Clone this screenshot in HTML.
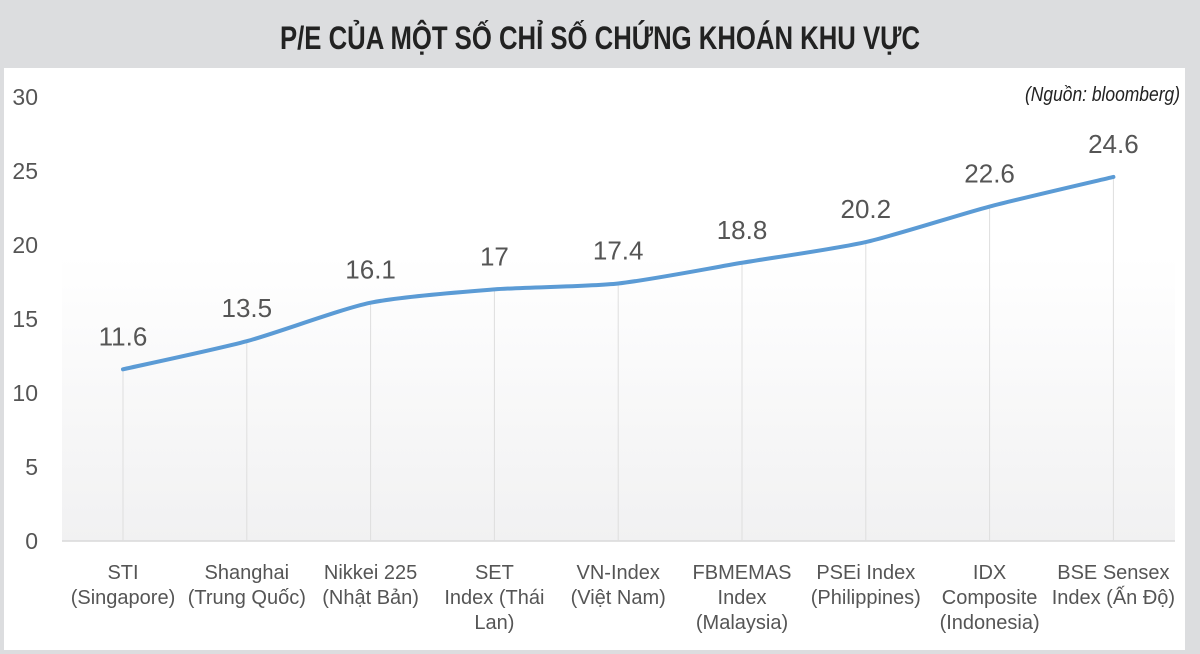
<!DOCTYPE html>
<html><head><meta charset="utf-8"><style>
html,body{margin:0;padding:0;background:#dcdddf;}
svg{display:block;}
text{font-family:"Liberation Sans",sans-serif;}
</style></head><body>
<svg width="1200" height="654" viewBox="0 0 1200 654">
<defs><linearGradient id="bg" x1="0" y1="0" x2="0" y2="1">
<stop offset="0" stop-color="#ffffff"/><stop offset="1" stop-color="#f1f1f2"/></linearGradient></defs>
<rect x="0" y="0" width="1200" height="654" fill="#dcdddf"/>
<rect x="4" y="68" width="1181" height="582" fill="#ffffff"/>
<rect x="62" y="255" width="1113" height="286" fill="url(#bg)"/>
<text x="600" y="49" text-anchor="middle" font-size="32" font-weight="bold" fill="#222" textLength="640" lengthAdjust="spacingAndGlyphs">P/E CỦA MỘT SỐ CHỈ SỐ CHỨNG KHOÁN KHU VỰC</text>
<text x="1180" y="101" text-anchor="end" font-size="20" font-style="italic" fill="#222" textLength="155" lengthAdjust="spacingAndGlyphs">(Nguồn: bloomberg)</text>
<g id="yaxis"></g><g id="grid"></g><g id="xaxis"></g><g id="series"></g>
</svg>
<script>
const categories1 = ["STI","Shanghai","Nikkei 225","SET","VN-Index","FBMEMAS","PSEi Index","IDX","BSE Sensex"];
const categories2 = ["(Singapore)","(Trung Quốc)","(Nhật Bản)","Index (Thái","(Việt Nam)","Index","(Philippines)","Composite","Index (Ấn Độ)"];
const categories3 = ["","","","Lan)","","(Malaysia)","","(Indonesia)",""];
const values = [11.6, 13.5, 16.1, 17, 17.4, 18.8, 20.2, 22.6, 24.6];
const valueLabels = ["11.6","13.5","16.1","17","17.4","18.8","20.2","22.6","24.6"];
const yTicks = [0,5,10,15,20,25,30];

const NS="http://www.w3.org/2000/svg";
function yScale(v){return 541 - v*14.8;}
function xScale(i){return 123 + i*123.8;}
function mk(tag,attrs,parent){const e=document.createElementNS(NS,tag);for(const k in attrs)e.setAttribute(k,attrs[k]);document.getElementById(parent).appendChild(e);return e;}

yTicks.forEach(t=>{
  const e=mk('text',{x:38,y:yScale(t)+8,'text-anchor':'end','font-size':23,fill:'#555'},'yaxis');
  e.textContent=t;
  
  
});
const ax=mk('line',{x1:62,x2:1175,y1:541,y2:541,stroke:'#d9d9d9','stroke-width':1.5},'grid');



values.forEach((v,i)=>{
  const x=xScale(i);
  const g=mk('line',{x1:x,x2:x,y1:yScale(v),y2:541,stroke:'#dedede','stroke-width':1},'grid');
  
  
  [categories1[i],categories2[i],categories3[i]].forEach((s,j)=>{
    if(!s)return;
    const t=mk('text',{x:x,y:579+j*25,'text-anchor':'middle','font-size':20,fill:'#555'},'xaxis');
    t.textContent=s;
    
    
  });
  const lb=mk('text',{x:x,y:yScale(v)-24,'text-anchor':'middle','font-size':26,fill:'#555'},'series');
  lb.textContent=valueLabels[i];
  
  
});

const pts=values.map((v,i)=>[xScale(i),yScale(v)]);
let d='M'+pts[0][0]+','+pts[0][1];
for(let i=0;i<pts.length-1;i++){
  const p0=pts[Math.max(i-1,0)],p1=pts[i],p2=pts[i+1],p3=pts[Math.min(i+2,pts.length-1)];
  const k=0.12;
  const c1=[p1[0]+(p2[0]-p0[0])*k,p1[1]+(p2[1]-p0[1])*k];
  const c2=[p2[0]-(p3[0]-p1[0])*k,p2[1]-(p3[1]-p1[1])*k];
  d+=' C'+c1[0]+','+c1[1]+' '+c2[0]+','+c2[1]+' '+p2[0]+','+p2[1];
}
const line=mk('path',{d:d,fill:'none',stroke:'#5b9bd5','stroke-width':4,'stroke-linecap':'round'},'series');


</script>
</body></html>
